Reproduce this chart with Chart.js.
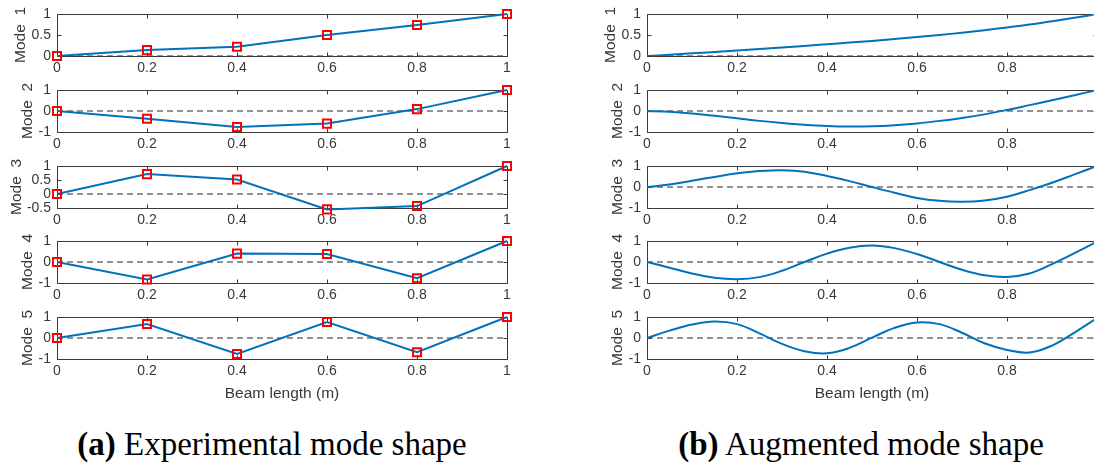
<!DOCTYPE html>
<html>
<head>
<meta charset="utf-8">
<title>Mode shapes</title>
<script src="https://cdn.jsdelivr.net/npm/chart.js@4/dist/chart.umd.min.js"></script>
<style>
  body { margin: 0; width: 1094px; height: 473px; overflow: hidden; background: #fff; position: relative; }
  canvas { position: absolute; }
  .caption {
    position: absolute; top: 428px; transform: translateX(-50%);
    font-family: "Liberation Serif", "Times New Roman", serif;
    font-size: 33px; line-height: 33px; white-space: nowrap; color: #000;
  }
</style>
</head>
<body>
<div class="caption" style="left:272px"><b>(a)</b> Experimental mode shape</div>
<div class="caption" style="left:861px"><b>(b)</b> Augmented mode shape</div>
<script>
"use strict";

// beam positions (m)
const xTicks = [0, 0.2, 0.4, 0.6, 0.8, 1];
const xExp = [0, 0.2, 0.4, 0.6, 0.8, 1];
const xFine = [0, 0.05, 0.1, 0.15, 0.2, 0.25, 0.3, 0.35, 0.4, 0.45, 0.5,
  0.55, 0.6, 0.65, 0.7, 0.75, 0.8, 0.85, 0.9, 0.95, 1];

// experimental mode shapes (measured points)
const exp1 = [0, 0.14, 0.22, 0.5, 0.74, 1];
const exp2 = [0, -0.37, -0.76, -0.6, 0.09, 1];
const exp3 = [0, 0.71, 0.52, -0.55, -0.43, 1];
const exp4 = [0, -0.83, 0.4, 0.38, -0.77, 1];
const exp5 = [0, 0.67, -0.76, 0.76, -0.68, 1];

// augmented mode shapes
const aug1 = [0, 0.03, 0.065, 0.095, 0.13, 0.165, 0.2, 0.24, 0.28, 0.32, 0.36,
  0.405, 0.45, 0.5, 0.555, 0.615, 0.68, 0.75, 0.83, 0.91, 1];
const aug2 = [0, -0.04, -0.12, -0.23, -0.35, -0.47, -0.57, -0.65, -0.71, -0.74, -0.73,
  -0.68, -0.59, -0.47, -0.33, -0.16, 0.05, 0.28, 0.51, 0.75, 1];
const aug3 = [0, 0.12, 0.3, 0.48, 0.65, 0.76, 0.8, 0.73, 0.52, 0.28, 0,
  -0.27, -0.52, -0.66, -0.7, -0.64, -0.46, -0.15, 0.2, 0.6, 1];
const aug4 = [0, -0.27, -0.55, -0.75, -0.82, -0.72, -0.42, 0, 0.4, 0.68, 0.78,
  0.66, 0.38, 0, -0.37, -0.63, -0.71, -0.55, -0.1, 0.42, 0.97];
const aug5 = [0, 0.35, 0.64, 0.78, 0.66, 0.22, -0.28, -0.63, -0.73, -0.47, 0.02,
  0.48, 0.74, 0.66, 0.25, -0.25, -0.57, -0.69, -0.36, 0.26, 0.95];

const zeroX = [0, 1];
const zeroY = [0, 0];

const yTicksMode1 = [0, 0.5, 1];
const yTicksExp3 = [-0.5, 0, 0.5, 1];
const yTicksUnit = [-1, 0, 1];

const modeLabels = ["Mode  1", "Mode  2", "Mode  3", "Mode  4", "Mode  5"];
const xTitle = "Beam length (m)";

const rowTops = [14, 90, 166, 241, 317];
const plotH = 42;
const padTop = 12;
const yAxisW = 57;
const textColor = "#383838";
const sans = "'Liberation Sans', Arial, Helvetica, sans-serif";

function pts(xs, ys) {
  return xs.map((x, i) => ({ x: x, y: ys[i] }));
}

// MATLAB style box with inward ticks on all four sides
const boxPlugin = {
  id: "matlabBox",
  beforeDatasetsDraw(chart) {
    const { ctx, chartArea: a, scales } = chart;
    const l = Math.round(a.left) + 0.5, r = Math.round(a.right) + 0.5;
    const t = Math.round(a.top) + 0.5, b = Math.round(a.bottom) + 0.5;
    ctx.save();
    ctx.strokeStyle = "#3a3a3a";
    ctx.lineWidth = 1;
    ctx.beginPath();
    ctx.rect(l, t, r - l, b - t);
    scales.x.ticks.forEach((tk) => {
      const px = Math.round(scales.x.getPixelForValue(tk.value)) + 0.5;
      ctx.moveTo(px, b); ctx.lineTo(px, b - 4);
      ctx.moveTo(px, t); ctx.lineTo(px, t + 4);
    });
    scales.y.ticks.forEach((tk) => {
      const py = Math.round(scales.y.getPixelForValue(tk.value)) + 0.5;
      ctx.moveTo(l, py); ctx.lineTo(l + 4, py);
      ctx.moveTo(r, py); ctx.lineTo(r - 4, py);
    });
    ctx.stroke();
    ctx.restore();
  },
};

function makeChart(opt) {
  const canvas = document.createElement("canvas");
  const xH = opt.last ? 48 : 24;
  const h = padTop + plotH + xH;
  canvas.width = opt.width;
  canvas.height = h;
  canvas.style.left = opt.left + "px";
  canvas.style.top = (opt.top - padTop) + "px";
  canvas.style.width = opt.width + "px";
  canvas.style.height = h + "px";
  document.body.appendChild(canvas);

  const yTicks = opt.yTicks;
  const modeSet = {
    data: opt.data,
    borderColor: "#0072BD",
    borderWidth: 2,
    tension: opt.markers ? 0 : 0.4,
    pointRadius: opt.markers ? 5.7 : 0,
    pointStyle: "rect",
    pointBorderColor: "#ff0000",
    pointBackgroundColor: "rgba(0,0,0,0)",
    pointBorderWidth: 2,
    clip: opt.markers ? false : undefined,
  };
  const zeroSet = {
    data: pts(zeroX, zeroY),
    borderColor: "#262626",
    borderWidth: 1,
    borderDash: [6, 4],
    pointRadius: 0,
  };

  return new Chart(canvas, {
    type: "line",
    data: { datasets: [modeSet, zeroSet] },
    options: {
      responsive: false,
      animation: false,
      events: [],
      layout: { padding: { top: padTop, left: 0, right: opt.width - yAxisW - 450, bottom: 0 } },
      plugins: { legend: { display: false }, tooltip: { enabled: false } },
      scales: {
        x: {
          type: "linear",
          min: 0,
          max: 1,
          afterBuildTicks: (s) => { s.ticks = xTicks.map((v) => ({ value: v })); },
          afterFit: (s) => {
            s.height = xH;
            s.paddingLeft = 0; s.paddingRight = 0; s.paddingTop = 0; s.paddingBottom = 0;
          },
          grid: { display: false, drawTicks: false },
          border: { display: false },
          ticks: {
            padding: 4, maxRotation: 0, autoSkip: false, color: textColor,
            font: { family: sans, size: 14 },
            callback: (v) => String(v),
          },
          title: {
            display: !!opt.last, text: xTitle, color: textColor,
            font: { family: sans, size: 15.5 }, padding: { top: 0, bottom: 4 },
          },
        },
        y: {
          type: "linear",
          min: yTicks[0],
          max: yTicks[yTicks.length - 1],
          afterBuildTicks: (s) => { s.ticks = yTicks.map((v) => ({ value: v })); },
          afterFit: (s) => {
            s.width = yAxisW;
            s.paddingLeft = 0; s.paddingRight = 0; s.paddingTop = 0; s.paddingBottom = 0;
          },
          grid: { display: false, drawTicks: false },
          border: { display: false },
          ticks: {
            padding: 6, autoSkip: false, color: textColor,
            font: { family: sans, size: 14 },
            callback: (v) => String(v),
          },
          title: {
            display: true, text: opt.label, color: textColor,
            font: { family: sans, size: 15.5 }, padding: { top: opt.labelPad, bottom: 0 },
          },
        },
      },
    },
    plugins: [boxPlugin],
  });
}

const expRows = [exp1, exp2, exp3, exp4, exp5];
const augRows = [aug1, aug2, aug3, aug4, aug5];
const expYTicks = [yTicksMode1, yTicksUnit, yTicksExp3, yTicksUnit, yTicksUnit];
const augYTicks = [yTicksMode1, yTicksUnit, yTicksUnit, yTicksUnit, yTicksUnit];

function labelPad(ticks) {
  if (ticks === yTicksExp3) return 7.7;
  if (ticks === yTicksMode1) return 11.7;
  return 18.7;
}

for (let i = 0; i < 5; i++) {
  makeChart({
    left: 0, width: 530, top: rowTops[i], last: i === 4, markers: true,
    data: pts(xExp, expRows[i]), yTicks: expYTicks[i],
    label: modeLabels[i], labelPad: labelPad(expYTicks[i]),
  });
  makeChart({
    left: 590, width: 520, top: rowTops[i], last: i === 4, markers: false,
    data: pts(xFine, augRows[i]), yTicks: augYTicks[i],
    label: modeLabels[i], labelPad: labelPad(augYTicks[i]),
  });
}
</script>
</body>
</html>
